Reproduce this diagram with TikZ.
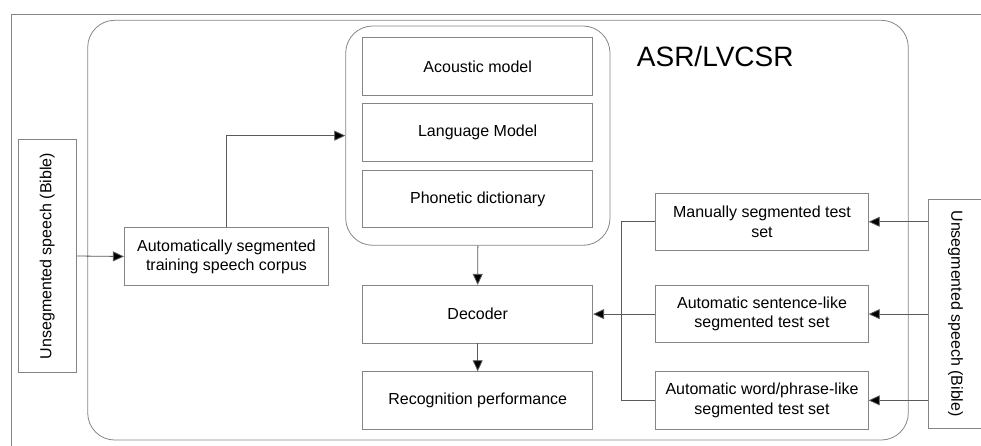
\documentclass[tikz,border=0pt]{standalone}
\usepackage{fontspec}
\setmainfont{Liberation Sans}
\usetikzlibrary{arrows.meta}
\definecolor{boxline}{HTML}{858585}
\definecolor{wireline}{HTML}{5A5A5A}
\tikzset{
  box/.style={draw=boxline, line width=0.8pt, rectangle, inner sep=0pt, align=center,
    font=\fontsize{16}{19.2}\selectfont, minimum width=230pt, minimum height=57.6pt},
  roundbox/.style={draw=boxline, line width=0.8pt, rectangle, rounded corners=27pt, inner sep=0pt},
  wire/.style={draw=wireline, line width=0.8pt},
  arr/.style={wire, -{Triangle[length=11pt, width=10pt, fill=black]}},
}
\begin{document}
\begin{tikzpicture}[x=1pt, y=-1pt]
\useasboundingbox (0,0) rectangle (981,446);
\clip (0,0) rectangle (981,446);

% page frame (open to the right and below)
\draw[draw=boxline, line width=0.8pt] (11.7,460) -- (11.7,14.3) -- (1000,14.3);

% ASR/LVCSR system and its model bundle
\node[roundbox, minimum width=820.6pt, minimum height=419.7pt] (asr) at (498,230.15) {};
\node[font=\fontsize{28}{33}\selectfont, anchor=base west, inner sep=0pt] (asrlabel) at (636.7,66.7) {ASR/LVCSR};
\node[roundbox, minimum width=264.3pt, minimum height=219.3pt] (models) at (477.85,135.65) {};
\node[box, minimum height=58pt] (acoustic) at (477.7,66.3) {Acoustic model};
\node[box] (language) at (477.7,132.15) {Language Model};
\node[box] (phonetic) at (477.7,199) {Phonetic dictionary};
\node[box] (decoder) at (477.7,314.1) {Decoder};
\node[box] (recog) at (477.7,400.5) {Recognition performance};

% training side
\node[box, minimum width=58pt, minimum height=233.4pt] (lsrc) at (47.3,256)
  {\rotatebox{90}{Unsegmented speech (Bible)}};
\node[box, minimum width=204.4pt] (train) at (226.5,256.5)
  {Automatically segmented\\training speech corpus};

% test side
\node[box, minimum width=212.6pt, minimum height=57pt] (manual) at (762,221.8)
  {Manually segmented test\\set};
\node[box, minimum width=212.6pt, minimum height=57.3pt] (sentence) at (762,314.1)
  {Automatic sentence-like\\segmented test set};
\node[box, minimum width=212.6pt, minimum height=57.3pt] (word) at (762,400.35)
  {Automatic word/phrase-like\\segmented test set};
\node[box, minimum width=56.3pt, minimum height=229.3pt] (rsrc) at (956.85,313.65) {};
\node[font=\fontsize{16}{19.2}\selectfont, inner sep=0pt] (rsrclabel) at (955.5,313.65)
  {\rotatebox{-90}{Unsegmented speech (Bible)}};

% connectors
\draw[arr] (lsrc.east) -- (train.west);
\draw[arr] (train.north) |- (models.west);
\draw[arr] (models.south) -- (decoder.north);
\draw[arr] (decoder.south) -- (recog.north);

\draw[arr] (rsrc.west |- manual.east) -- (manual.east);
\draw[arr] (rsrc.west |- sentence.east) -- (sentence.east);
\draw[arr] (rsrc.west |- word.east) -- (word.east);

\coordinate (bus) at (621.3,221.8);
\draw[wire] (manual.west) -- (bus) |- (word.west);
\draw[arr] (sentence.west) -- (decoder.east);
\end{tikzpicture}
\end{document}
